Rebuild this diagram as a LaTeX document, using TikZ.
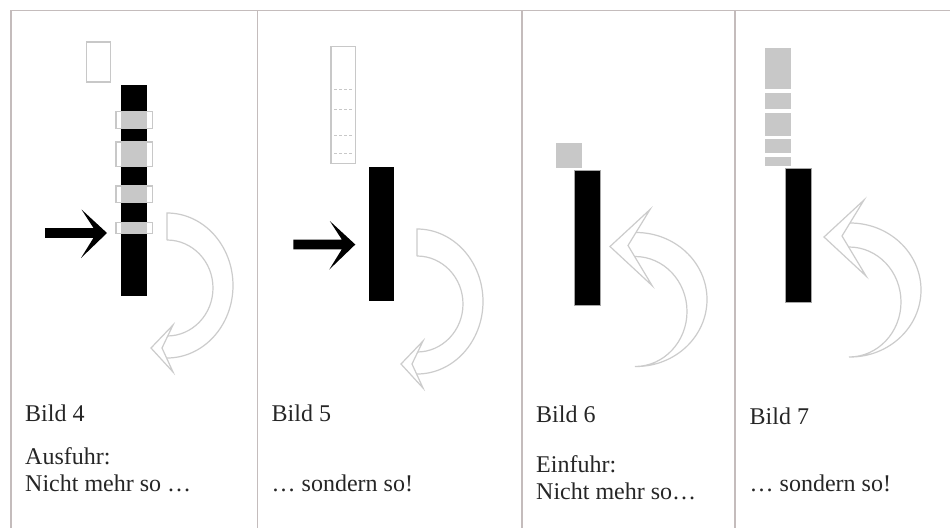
\documentclass[tikz,border=0pt]{standalone}
\usepackage{fontspec}
\setmainfont{Liberation Serif}
\definecolor{rulec}{HTML}{C4BCBC}
\definecolor{lg}{HTML}{C8C8C8}
\definecolor{lgl}{HTML}{CCCCCC}
\definecolor{txtc}{HTML}{262626}
\tikzset{
  gridline/.style={draw=rulec, line width=1.6pt},
  outl/.style={draw=lg, line width=1.3pt},
  carrow/.style={draw=lgl, line width=1.2pt, line join=miter},
  bar/.style={fill=black},
  lbl/.style={anchor=base west, inner sep=0pt, text=txtc, font=\fontsize{24}{28}\selectfont},
}
% curved arrow, head at the bottom pointing left; #1,#2 = top of the flat tail
\newcommand\curvdown[2]{%
  \begin{scope}[shift={(#1,#2)}]
    \draw[carrow] (0,27) -- (0,0) arc[start angle=90, end angle=-90, x radius=66pt, y radius=72.5pt];
    \draw[carrow] (0,27) arc[start angle=90, end angle=-90, x radius=46pt, y radius=48pt];
    \draw[carrow, fill=white] (-16,135) -- (6,112) -- (-5,135) -- (6,159) -- cycle;
  \end{scope}}
% curved arrow, head at the top pointing left; #1,#2 = centre of the outer arc
\newcommand\curvup[2]{%
  \begin{scope}[shift={(#1,#2)}]
    \draw[carrow] (-4,-67) arc[start angle=90, end angle=-90, x radius=71pt, y radius=67pt]
      -- (-5,67) arc[start angle=-90, end angle=90, x radius=52pt, y radius=55pt];
    \draw[carrow, fill=white] (-30,-53) -- (10,-90) -- (-12,-54) -- (12,-14) -- cycle;
  \end{scope}}
% black arrow, #1,#2 = tip
\newcommand\blackarrow[2]{%
  \begin{scope}[shift={(#1,#2)}]
    \fill[black] (-61,-5) -- (-12.5,-5) -- (-24.5,-23.5) -- (1,0) -- (-25,25) -- (-12.5,4.8) -- (-61,4.8) -- cycle;
  \end{scope}}
\begin{document}
\begin{tikzpicture}[x=1pt,y=-1pt]
\useasboundingbox (0,0) rectangle (950,528);
\fill[white] (0,0) rectangle (950,528);

% table rules
\draw[gridline] (10,10.5) -- (950,10.5);
\draw[gridline] (11,10) -- (11,528);
\draw[gridline] (257.5,10) -- (257.5,528);
\draw[gridline] (521.7,10) -- (521.7,528);
\draw[gridline] (735,10) -- (735,528);

% ---------- Bild 4
\draw[outl] (86.5,42) rectangle (110.5,82);
\fill[bar] (121.3,85.3) rectangle (147,296);
\foreach \a/\b in {111.7/128.3, 142/166.7, 186/202.7, 222.7/233.3}{
  \draw[outl, fill=white] (116,\a) rectangle (152.7,\b);
  \fill[lg] (121.3,\a) rectangle (147,\b);
}
\blackarrow{106}{233}
\curvdown{167}{213}

% ---------- Bild 5
\draw[outl] (331,46.7) rectangle (355.7,163.3);
\foreach \y in {89.3, 109, 135.3, 153.7}{
  \draw[draw=lg, line width=1pt, dash pattern=on 3pt off 2pt] (334,\y) -- (353,\y);
}
\fill[bar] (368.7,166.7) rectangle (394.3,301);
\blackarrow{354.3}{244.5}
\curvdown{417}{229}

% ---------- Bild 6
\fill[lg] (556,142.7) rectangle (582,168.3);
\draw[fill=black, draw=gray!70, line width=0.8pt] (574,170.7) rectangle (600.3,305);
\curvup{640}{299.5}

% ---------- Bild 7
\foreach \a/\b in {48.3/89.3, 92.7/109.3, 112.7/136, 139.3/153.3, 156.7/165.7}{
  \fill[lg] (765,\a) rectangle (791.3,\b);
}
\draw[fill=black, draw=gray!70, line width=0.8pt] (785,168.3) rectangle (811,302.7);
\curvup{854}{290}

% ---------- texts
\node[lbl] (b4) at (25,421.7) {Bild 4};
\node[lbl] (t4a) at (25,464) {Ausfuhr:};
\node[lbl] (t4b) at (25,491.5) {Nicht mehr so …};
\node[lbl] (b5) at (271.5,421.7) {Bild 5};
\node[lbl] (t5) at (271.5,491.5) {… sondern so!};
\node[lbl] (b6) at (536,422) {Bild 6};
\node[lbl] (t6a) at (536,472) {Einfuhr:};
\node[lbl] (t6b) at (536,499) {Nicht mehr so…};
\node[lbl] (b7) at (749.5,424) {Bild 7};
\node[lbl] (t7) at (749.5,491.5) {… sondern so!};
\end{tikzpicture}
\end{document}
